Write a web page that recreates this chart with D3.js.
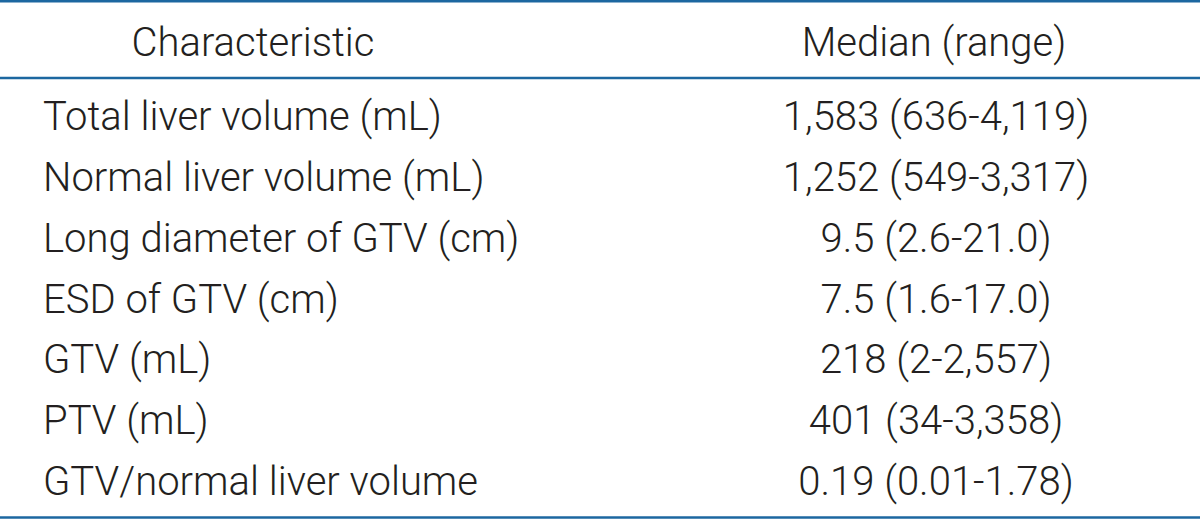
<!DOCTYPE html>
<html>
<head>
<meta charset="utf-8">
<script src="https://d3js.org/d3.v7.min.js"></script>
<title>Liver and tumour characteristics</title>
</head>
<style>
body { margin: 0; background: #fff; }
svg { display: block; }
text { font-family: Roboto, "Noto Sans", sans-serif; font-size: 40px; font-weight: 300; fill: #231f20; }
</style>
<body>
<svg width="1200" height="519"></svg>
</body>
<script>

// table contents
let headers = ["Characteristic", "Median (range)"];
let characteristics = [
  "Total liver volume (mL)",
  "Normal liver volume (mL)",
  "Long diameter of GTV (cm)",
  "ESD of GTV (cm)",
  "GTV (mL)",
  "PTV (mL)",
  "GTV/normal liver volume"
];
let medians = ["1,583", "1,252", "9.5", "7.5", "218", "401", "0.19"];
let ranges = ["636-4,119", "549-3,317", "2.6-21.0", "1.6-17.0", "2-2,557", "34-3,358", "0.01-1.78"];

let width = 1200, height = 519;
let ruleColor = "#1c67a0";

let svg = d3.select("svg");

let rows = characteristics.map(function(c, i) {
  return {label: c, value: medians[i] + " (" + ranges[i] + ")"};
});

// baseline of each row
let y = d3.scalePoint()
  .domain(d3.range(rows.length))
  .range([130, 495]);

let labelX = 43;
let valueX = 936;

// horizontal rules: top, under header, bottom
let rules = [1.2, 78, 517.5];
svg.selectAll("line.rule")
  .data(rules)
  .enter().append("line")
    .attr("class", "rule")
    .attr("x1", 0)
    .attr("x2", width)
    .attr("y1", function(d){ return d; })
    .attr("y2", function(d){ return d; })
    .attr("stroke", ruleColor)
    .attr("stroke-width", 2.6);

// header
svg.selectAll("text.head")
  .data(headers)
  .enter().append("text")
    .attr("class", "head")
    .attr("x", function(d, i){ return i == 0 ? 253 : 934; })
    .attr("y", 56)
    .attr("text-anchor", "middle")
    .text(function(d){ return d; });

// body rows
let row = svg.selectAll("g.row")
  .data(rows)
  .enter().append("g")
    .attr("class", "row")
    .attr("transform", function(d, i){ return "translate(0," + y(i) + ")"; });

row.append("text")
  .attr("x", labelX)
  .text(function(d){ return d.label; });

row.append("text")
  .attr("x", valueX)
  .attr("text-anchor", "middle")
  .text(function(d){ return d.value; });

</script>
</html>
